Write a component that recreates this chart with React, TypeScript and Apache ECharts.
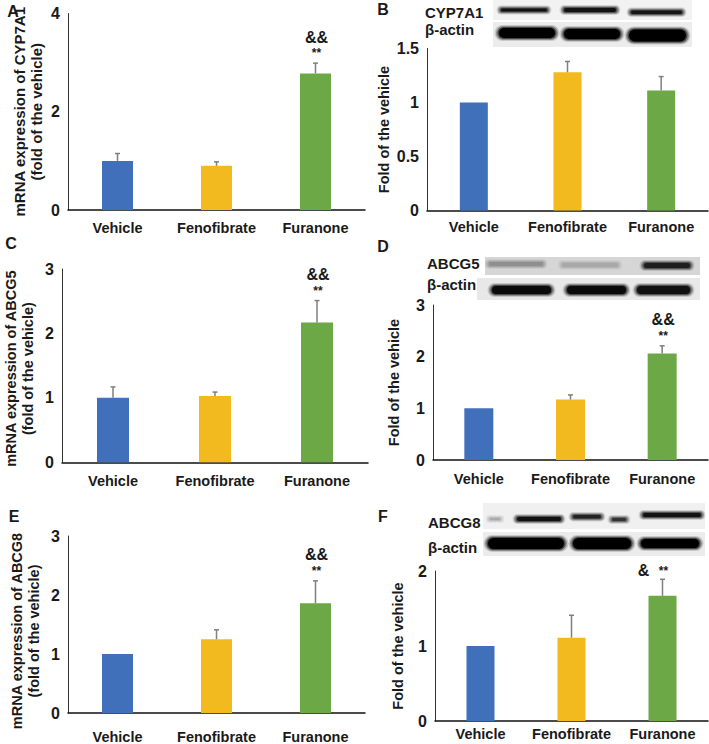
import React, { useEffect, useRef } from "react";
import * as echarts from "echarts";

const categories = ["Vehicle", "Fenofibrate", "Furanone"];

// Panel A: mRNA CYP7A1
const cyp7a1Mrna = [1.0, 0.9, 2.78];
const cyp7a1MrnaErr = [0.15, 0.08, 0.21];
const cyp7a1MrnaAmp = ["", "", "&&"];
const cyp7a1MrnaStar = ["", "", "**"];
// Panel B: protein CYP7A1
const cyp7a1Protein = [1.0, 1.28, 1.11];
const cyp7a1ProteinErr = [0, 0.1, 0.13];
const cyp7a1ProteinAmp = ["", "", ""];
const cyp7a1ProteinStar = ["", "", ""];
// Panel C: mRNA ABCG5
const abcg5Mrna = [1.0, 1.03, 2.17];
const abcg5MrnaErr = [0.17, 0.06, 0.34];
const abcg5MrnaAmp = ["", "", "&&"];
const abcg5MrnaStar = ["", "", "**"];
// Panel D: protein ABCG5
const abcg5Protein = [1.0, 1.17, 2.06];
const abcg5ProteinErr = [0, 0.09, 0.15];
const abcg5ProteinAmp = ["", "", "&&"];
const abcg5ProteinStar = ["", "", "**"];
// Panel E: mRNA ABCG8
const abcg8Mrna = [1.0, 1.25, 1.86];
const abcg8MrnaErr = [0, 0.16, 0.38];
const abcg8MrnaAmp = ["", "", "&&"];
const abcg8MrnaStar = ["", "", "**"];
// Panel F: protein ABCG8
const abcg8Protein = [1.0, 1.11, 1.67];
const abcg8ProteinErr = [0, 0.3, 0.22];
const abcg8ProteinAmp = ["", "", "&"];
const abcg8ProteinStar = ["", "", "**"];

const barColors = ["#4070BA", "#F2BA1E", "#6CA845"];
const FONT = "'Liberation Sans', Arial, sans-serif";
const TXT = "#1a1a1a";

type Panel = {
  letter: string;
  letterPos: [number, number];
  grid: { left: number; top: number; width: number; height: number };
  max: number;
  interval: number;
  values: number[];
  errs: number[];
  amp: string[];
  star: string[];
  name: string;
  nameGap: number;
  nameSize: number;
  namePad: number[];
  barWidth: number;
  labelMargin: number;
  inlineSig?: boolean;
};

const panels: Panel[] = [
  {
    letter: "A", letterPos: [13, 11],
    grid: { left: 68, top: 13.5, width: 297, height: 196.5 },
    max: 4, interval: 2, values: cyp7a1Mrna, errs: cyp7a1MrnaErr, amp: cyp7a1MrnaAmp, star: cyp7a1MrnaStar,
    name: "mRNA expression of CYP7A1\n(fold of the vehicle)", nameGap: 23, nameSize: 15, namePad: [0, 0, 0, 0], barWidth: 31, labelMargin: 10,
  },
  {
    letter: "B", letterPos: [383, 9],
    grid: { left: 427, top: 48.5, width: 281, height: 162 },
    max: 1.5, interval: 0.5, values: cyp7a1Protein, errs: cyp7a1ProteinErr, amp: cyp7a1ProteinAmp, star: cyp7a1ProteinStar,
    name: "Fold of the vehicle", nameGap: 31, nameSize: 14.5, namePad: [0, 0, 0, 0], barWidth: 28, labelMargin: 9,
  },
  {
    letter: "C", letterPos: [11, 243],
    grid: { left: 62, top: 269, width: 306, height: 193.3 },
    max: 3, interval: 1, values: abcg5Mrna, errs: abcg5MrnaErr, amp: abcg5MrnaAmp, star: abcg5MrnaStar,
    name: "mRNA expression of ABCG5\n(fold of the vehicle)", nameGap: 26, nameSize: 14.5, namePad: [0, 6, 0, 0], barWidth: 32, labelMargin: 11,
  },
  {
    letter: "D", letterPos: [383, 246],
    grid: { left: 433, top: 305, width: 275, height: 155 },
    max: 3, interval: 1, values: abcg5Protein, errs: abcg5ProteinErr, amp: abcg5ProteinAmp, star: abcg5ProteinStar,
    name: "Fold of the vehicle", nameGap: 31, nameSize: 14.5, namePad: [0, 0, 0, 0], barWidth: 29, labelMargin: 11,
  },
  {
    letter: "E", letterPos: [14, 516],
    grid: { left: 68, top: 536, width: 297, height: 177.3 },
    max: 3, interval: 1, values: abcg8Mrna, errs: abcg8MrnaErr, amp: abcg8MrnaAmp, star: abcg8MrnaStar,
    name: "mRNA expression of ABCG8\n(fold of the vehicle)", nameGap: 26, nameSize: 14.5, namePad: [0, 13, 0, 0], barWidth: 31, labelMargin: 16,
  },
  {
    letter: "F", letterPos: [383, 516],
    grid: { left: 435, top: 571, width: 273, height: 150 },
    max: 2, interval: 1, values: abcg8Protein, errs: abcg8ProteinErr, amp: abcg8ProteinAmp, star: abcg8ProteinStar,
    name: "Fold of the vehicle", nameGap: 29, nameSize: 14.5, namePad: [0, 0, 0, 0], barWidth: 28, labelMargin: 5, inlineSig: true,
  },
];

// soft western-blot band: layered pills to imitate blur
function band(x: number, y: number, w: number, h: number, color: string) {
  const layers: any[] = [];
  const steps = [
    { d: 3, o: 0.15 },
    { d: 2, o: 0.3 },
    { d: 1, o: 0.5 },
    { d: 0, o: 1 },
  ];
  steps.forEach((s) => {
    const hh = h + 2 * s.d;
    layers.push({
      type: "rect",
      silent: true,
      shape: { x: x - s.d * 1.5, y: y - s.d, width: w + 3 * s.d, height: hh, r: hh / 2 },
      style: { fill: color, opacity: s.o },
    });
  });
  return layers;
}

function blotGraphics() {
  const g: any[] = [];
  const bg = (x: number, y: number, w: number, h: number, fill: string) =>
    g.push({ type: "rect", silent: true, shape: { x, y, width: w, height: h }, style: { fill } });
  // Panel B blot
  bg(493, 0, 199, 20, "#f2f2f2");
  bg(493, 22, 199, 25, "#ececec");
  g.push(...band(501, 8.5, 46, 3, "#111"));
  g.push(...band(564, 8, 52, 4, "#111"));
  g.push(...band(631, 10.5, 51, 3.5, "#151515"));
  g.push(...band(499, 28, 56, 10, "#000"));
  g.push(...band(564, 29, 56, 10, "#000"));
  g.push(...band(629, 29.5, 57, 12, "#000"));
  // Panel D blot
  bg(485, 257, 215, 18, "#d6d6d6");
  bg(477, 278, 223, 22, "#e8e8e8");
  g.push(...band(489, 262, 54, 4, "#8f8f8f"));
  g.push(...band(562, 263, 56, 4, "#a8a8a8"));
  g.push(...band(644, 263, 46, 5, "#1e1e1e"));
  g.push(...band(492, 286, 59, 8, "#0a0a0a"));
  g.push(...band(567, 286, 59, 8, "#0a0a0a"));
  g.push(...band(637, 286, 53, 8, "#111"));
  // Panel F blot
  bg(483, 503, 222, 26, "#f0f0f0");
  bg(483, 532, 222, 24, "#ececec");
  g.push(...band(490, 518, 10, 2, "#aaa"));
  g.push(...band(517, 517, 44, 4, "#111"));
  g.push(...band(573, 515, 28, 3.5, "#222"));
  g.push(...band(612, 518, 14, 3, "#333"));
  g.push(...band(643, 513, 58, 4, "#111"));
  g.push(...band(488, 538, 76, 11, "#000"));
  g.push(...band(573, 538, 58, 11, "#000"));
  g.push(...band(641, 539, 58, 9, "#000"));
  // blot labels
  const lbl = (text: string, x: number, y: number) => ({
    type: "text",
    x, y,
    style: { text, font: `bold 15px ${FONT}`, fill: TXT, textAlign: "left", textVerticalAlign: "middle" },
  });
  g.push(lbl("CYP7A1", 425, 12));
  g.push(lbl("β-actin", 425, 29));
  g.push(lbl("ABCG5", 427, 263));
  g.push(lbl("β-actin", 427, 284));
  g.push(lbl("ABCG8", 428, 522));
  g.push(lbl("β-actin", 428, 547));
  // panel letters
  panels.forEach((p) => {
    g.push({
      type: "text",
      x: p.letterPos[0], y: p.letterPos[1],
      style: { text: p.letter, font: `bold 16px ${FONT}`, fill: TXT, textAlign: "center", textVerticalAlign: "middle" },
    });
  });
  return g;
}

export default function App() {
  const ref = useRef<HTMLDivElement>(null);
  useEffect(() => {
    if (!ref.current) return;
    const chart = echarts.init(ref.current, undefined, { renderer: "svg" });
    const grid: any[] = [];
    const xAxis: any[] = [];
    const yAxis: any[] = [];
    const series: any[] = [];
    panels.forEach((p, i) => {
      grid.push({ ...p.grid, containLabel: false });
      xAxis.push({
        type: "category",
        gridIndex: i,
        data: categories,
        axisLine: { lineStyle: { color: "#111", width: 1.5 } },
        axisTick: { show: false },
        axisLabel: { color: TXT, fontWeight: "bold", fontSize: 14.5, fontFamily: FONT, margin: p.labelMargin, interval: 0 },
      });
      yAxis.push({
        type: "value",
        gridIndex: i,
        min: 0,
        max: p.max,
        interval: p.interval,
        splitLine: { show: false },
        axisTick: { show: false },
        axisLine: { show: true, lineStyle: { color: "#333", width: 1 } },
        axisLabel: { color: TXT, fontWeight: "bold", fontSize: 16, fontFamily: FONT, margin: 8 },
        name: p.name,
        nameLocation: "middle",
        nameRotate: 90,
        nameGap: p.nameGap,
        nameTextStyle: {
          color: TXT, fontWeight: "bold", fontSize: p.nameSize, fontFamily: FONT, lineHeight: 17,
          padding: p.namePad,
        },
      });
      series.push({
        type: "bar",
        xAxisIndex: i,
        yAxisIndex: i,
        barWidth: p.barWidth,
        data: p.values.map((v, k) => ({ value: v, itemStyle: { color: barColors[k] } })),
      });
      series.push({
        type: "custom",
        xAxisIndex: i,
        yAxisIndex: i,
        z: 5,
        data: p.values.map((v, k) => [k, v, p.errs[k]]),
        renderItem: (params: any, api: any) => {
          const idx = params.dataIndex;
          const x = api.value(0);
          const v = api.value(1);
          const e = api.value(2);
          const base = api.coord([x, v]);
          const top = api.coord([x, v + e]);
          const children: any[] = [];
          if (e > 0) {
            children.push({
              type: "line",
              shape: { x1: base[0], y1: base[1], x2: top[0], y2: top[1] },
              style: { stroke: "#7f7f7f", lineWidth: 1.5 },
            });
            children.push({
              type: "line",
              shape: { x1: top[0] - 2.5, y1: top[1], x2: top[0] + 2.5, y2: top[1] },
              style: { stroke: "#7f7f7f", lineWidth: 1.5 },
            });
          }
          const amp = p.amp[idx];
          const star = p.star[idx];
          if (p.inlineSig) {
            if (amp)
              children.push({
                type: "text",
                x: top[0] - 19, y: top[1] - 9,
                style: { text: amp, font: `bold 16px ${FONT}`, fill: TXT, textAlign: "center", textVerticalAlign: "middle" },
              });
            if (star)
              children.push({
                type: "text",
                x: top[0] + 1, y: top[1] - 8,
                style: { text: star, font: `bold 12px ${FONT}`, fill: TXT, textAlign: "center", textVerticalAlign: "middle" },
              });
          } else {
            if (star)
              children.push({
                type: "text",
                x: top[0] + 1, y: top[1] - 10,
                style: { text: star, font: `bold 12px ${FONT}`, fill: TXT, textAlign: "center", textVerticalAlign: "middle" },
              });
            if (amp)
              children.push({
                type: "text",
                x: top[0] + 1, y: top[1] - 26,
                style: { text: amp, font: `bold 16px ${FONT}`, fill: TXT, textAlign: "center", textVerticalAlign: "middle" },
              });
          }
          return { type: "group", children };
        },
      });
    });
    chart.setOption({
      animation: false,
      backgroundColor: "#ffffff",
      grid,
      xAxis,
      yAxis,
      series,
      graphic: blotGraphics(),
    });
    return () => chart.dispose();
  }, []);
  return (
    <div
      ref={ref}
      style={{ position: "absolute", left: 0, top: 0, width: 709, height: 744 }}
    />
  );
}
